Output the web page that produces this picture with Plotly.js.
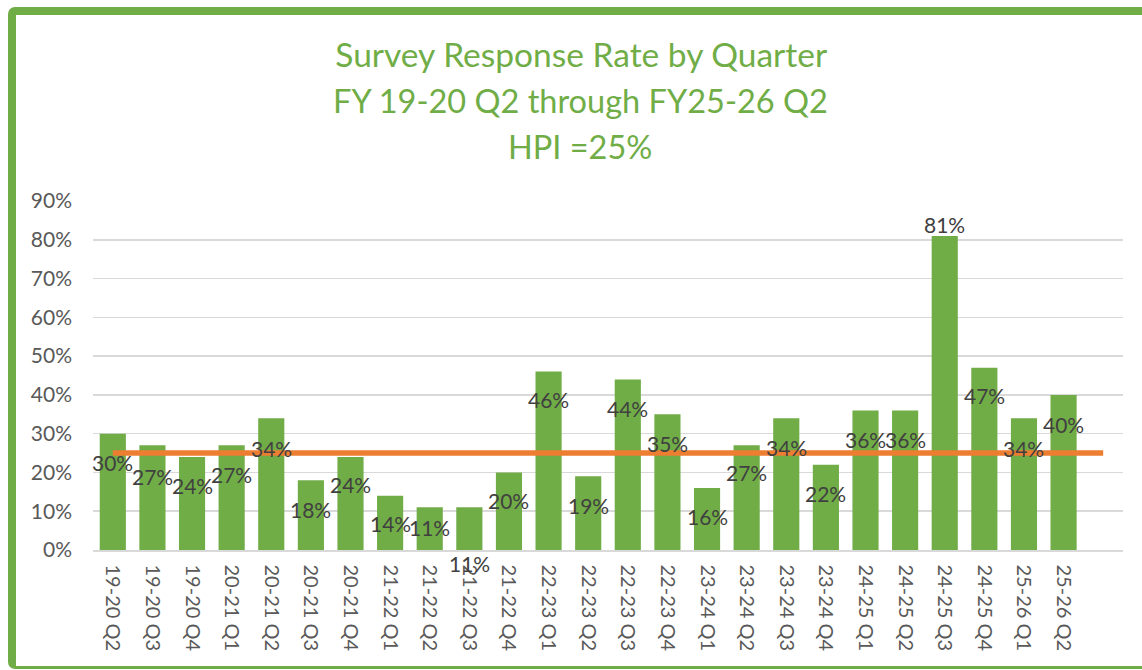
<!DOCTYPE html>
<html>
<head>
<meta charset="utf-8">
<script src="https://cdn.plot.ly/plotly-3.0.1.min.js"></script>
<style>
  html, body { margin: 0; padding: 0; background: #ffffff; overflow: hidden; }
  #chart { position: absolute; left: 0; top: 0; width: 1142px; height: 670px; }
  #frame { position: absolute; left: 8px; top: 7px; width: 1160px; height: 662px; box-sizing: border-box;
           border: 8px solid #70AD47; border-bottom: 3px solid #70AD47; border-radius: 7px; pointer-events: none; }
</style>
</head>
<body>
<div id="chart"></div>
<div id="frame"></div>
<script>
// ---- data ----
const categories = ["19-20 Q2","19-20 Q3","19-20 Q4","20-21 Q1","20-21 Q2","20-21 Q3","20-21 Q4",
  "21-22 Q1","21-22 Q2","21-22 Q3","21-22 Q4","22-23 Q1","22-23 Q2","22-23 Q3","22-23 Q4",
  "23-24 Q1","23-24 Q2","23-24 Q3","23-24 Q4","24-25 Q1","24-25 Q2","24-25 Q3","24-25 Q4",
  "25-26 Q1","25-26 Q2"];
const responseRate = [30,27,24,27,34,18,24,14,11,11,20,46,19,44,35,16,27,34,22,36,36,81,47,34,40];
const hpiTarget = [25,25,25,25,25,25,25,25,25,25,25,25,25,25,25,25,25,25,25,25,25,25,25,25,25,25];
const yTicks = [0,10,20,30,40,50,60,70,80,90];

// ---- style (label vertical offsets in px, relative to the bar top) ----
const labelShift = [-29,-31,-29,-29,-30,-29,-28,-28,-20,-56,-28,-28,-29,-29,-29,-29,-27,-29,-29,-29,-29,11,-28,-30,-30];

const xs = categories.map((c, i) => i);
const hpiX = hpiTarget.map((v, i) => i);

const FONT = "Lato, 'Open Sans', sans-serif";
const GREEN = "#70AD47";

const traces = [
  {
    type: "bar", x: xs, y: responseRate, width: 0.66,
    marker: { color: GREEN }, hoverinfo: "skip", showlegend: false
  },
  {
    type: "scatter", mode: "lines", x: hpiX, y: hpiTarget,
    line: { color: "#ED7D31", width: 5.5 }, hoverinfo: "skip", showlegend: false
  }
];

const annotations = responseRate.map((v, i) => ({
  x: xs[i], y: v, xref: "x", yref: "y", text: v + "%", showarrow: false,
  xanchor: "center", yanchor: "middle", yshift: labelShift[i],
  font: { family: FONT, size: 21, color: "#404040" }
}));

annotations.push(
  { xref: "paper", yref: "paper", x: 0.473, y: 1, yshift: 101, xanchor: "center", yanchor: "middle",
    text: "FY 19-20 Q2 through FY25-26 Q2", showarrow: false,
    font: { family: FONT, size: 32.5, color: GREEN } },
  { xref: "paper", yref: "paper", x: 0.473, y: 1, yshift: 55, xanchor: "center", yanchor: "middle",
    text: "HPI =25%", showarrow: false,
    font: { family: FONT, size: 32.5, color: GREEN } }
);

const layout = {
  width: 1142, height: 670,
  margin: { l: 93, r: 19, t: 201, b: 120 },
  paper_bgcolor: "#ffffff", plot_bgcolor: "#ffffff",
  title: {
    text: "Survey Response Rate by Quarter",
    x: 0.474, xanchor: "center", xref: "paper",
    y: 1 - 55 / 670, yref: "container", yanchor: "middle",
    font: { family: FONT, size: 33.5, color: GREEN }
  },
  xaxis: {
    range: [-0.5, 25.5], tickmode: "array", tickvals: xs, ticktext: categories,
    tickangle: 90, showgrid: false, zeroline: false,
    showline: true, linecolor: "#d9d9d9", linewidth: 1.5, ticks: "",
    ticklabelstandoff: 9,
    tickfont: { family: FONT, size: 20, color: "#595959" }, fixedrange: true
  },
  yaxis: {
    range: [0, 90], tickmode: "array", tickvals: yTicks, ticktext: yTicks.map(t => t + "%"),
    showgrid: true, gridcolor: "#d9d9d9", gridwidth: 1.5, zeroline: false, ticks: "",
    ticklabelstandoff: 20,
    tickfont: { family: FONT, size: 21, color: "#595959" }, fixedrange: true
  },
  annotations: annotations,
  bargap: 0.34
};

Plotly.newPlot("chart", traces, layout, { displayModeBar: false, staticPlot: true });
</script>
</body>
</html>
